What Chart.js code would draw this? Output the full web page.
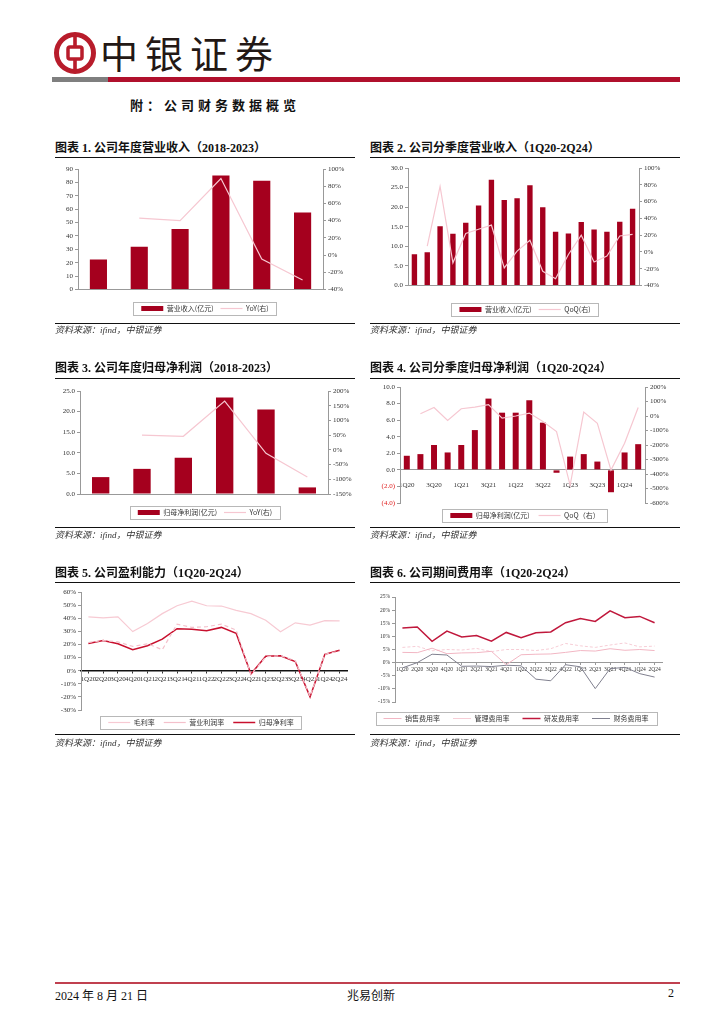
<!DOCTYPE html>
<html lang="zh-CN">
<head>
<meta charset="utf-8">
<title>附：公司财务数据概览</title>
<script src="https://cdn.jsdelivr.net/npm/chart.js@4.4.1/dist/chart.umd.min.js"></script>
<style>
  body { margin: 0; background: #fff; }
  #page { position: relative; width: 724px; height: 1024px; overflow: hidden; color: #111;
          font-family: 'Liberation Serif', 'Noto Sans CJK SC', serif; }
  .abs { position: absolute; }
  .title { font-weight: bold; font-size: 12px; line-height: 14px; white-space: nowrap; }
  .rule { position: absolute; height: 0; border-top: 1.5px solid #111; }
  .thin { border-top-width: 1px; }
  .source { font-style: italic; font-size: 9px; line-height: 11px; color: #333; }
  canvas { position: absolute; }
</style>
</head>
<body>
<div id="page">
  <!-- 页眉 -->
  <svg class="abs" style="left:53px;top:31px" width="44" height="44" viewBox="0 0 44 44">
    <circle cx="22" cy="22" r="18.5" fill="none" stroke="#B81C2B" stroke-width="5"/>
    <rect x="15" y="16" width="14" height="12" rx="2" fill="none" stroke="#B81C2B" stroke-width="3.5"/>
    <rect x="20.2" y="3" width="3.6" height="13" fill="#B81C2B"/>
    <rect x="20.2" y="28" width="3.6" height="13" fill="#B81C2B"/>
  </svg>
  <div class="abs" style="left:100px;top:33px;font-size:38px;line-height:38px;letter-spacing:7px;color:#231815;font-family:'Noto Sans CJK SC'">中银证券</div>
  <div class="abs" style="left:52px;top:77px;width:56px;height:5px;background:#7f7f7f"></div>
  <div class="abs" style="left:108px;top:77px;width:572px;height:5px;background:#B0102C"></div>
  <div class="abs" style="left:130px;top:95px;font-size:13px;letter-spacing:4px;font-weight:bold;font-family:'Noto Sans CJK SC'">附：公司财务数据概览</div>

  <!-- 第一行 -->
  <div class="abs title" style="left:55px;top:141px">图表 1. 公司年度营业收入（2018-2023）</div>
  <div class="rule" style="left:55px;top:157px;width:300px"></div>
  <canvas id="c1" width="300" height="164" style="left:55px;top:160px"></canvas>
  <div class="rule thin" style="left:55px;top:323px;width:300px"></div>
  <div class="abs source" style="left:55px;top:325px">资料来源：ifind，中银证券</div>

  <div class="abs title" style="left:370px;top:141px">图表 2. 公司分季度营业收入（1Q20-2Q24）</div>
  <div class="rule" style="left:370px;top:157px;width:310px"></div>
  <canvas id="c2" width="310" height="165" style="left:370px;top:160px"></canvas>
  <div class="rule thin" style="left:370px;top:323px;width:310px"></div>
  <div class="abs source" style="left:370px;top:325px">资料来源：ifind，中银证券</div>

  <!-- 第二行 -->
  <div class="abs title" style="left:55px;top:361px">图表 3. 公司年度归母净利润（2018-2023）</div>
  <div class="rule" style="left:55px;top:378px;width:300px"></div>
  <canvas id="c3" width="300" height="147" style="left:55px;top:381px"></canvas>
  <div class="rule thin" style="left:55px;top:527px;width:300px"></div>
  <div class="abs source" style="left:55px;top:530px">资料来源：ifind，中银证券</div>

  <div class="abs title" style="left:370px;top:361px">图表 4. 公司分季度归母净利润（1Q20-2Q24）</div>
  <div class="rule" style="left:370px;top:378px;width:310px"></div>
  <canvas id="c4" width="310" height="152" style="left:370px;top:379px"></canvas>
  <div class="rule thin" style="left:370px;top:527px;width:310px"></div>
  <div class="abs source" style="left:370px;top:530px">资料来源：ifind，中银证券</div>

  <!-- 第三行 -->
  <div class="abs title" style="left:55px;top:566px">图表 5. 公司盈利能力（1Q20-2Q24）</div>
  <div class="rule" style="left:55px;top:582px;width:300px"></div>
  <canvas id="c5" width="300" height="153" style="left:55px;top:585px"></canvas>
  <div class="rule thin" style="left:55px;top:734px;width:300px"></div>
  <div class="abs source" style="left:55px;top:738px">资料来源：ifind，中银证券</div>

  <div class="abs title" style="left:370px;top:566px">图表 6. 公司期间费用率（1Q20-2Q24）</div>
  <div class="rule" style="left:370px;top:582px;width:310px"></div>
  <canvas id="c6" width="310" height="149" style="left:370px;top:585px"></canvas>
  <div class="rule thin" style="left:370px;top:734px;width:310px"></div>
  <div class="abs source" style="left:370px;top:738px">资料来源：ifind，中银证券</div>

  <!-- 页脚 -->
  <div class="abs" style="left:55px;top:982px;width:625px;height:1.5px;background:#C0404F"></div>
  <div class="abs" style="left:55px;top:986px;font-size:12px">2024 年 8 月 21 日</div>
  <div class="abs" style="left:347px;top:986px;font-size:12px">兆易创新</div>
  <div class="abs" style="left:668px;top:986px;font-size:12px">2</div>
</div>

<script>
// 横轴
const years = ['2018', '2019', '2020', '2021', '2022', '2023'];
const quarters = ['1Q20', '2Q20', '3Q20', '4Q20', '1Q21', '2Q21', '3Q21', '4Q21', '1Q22',
                  '2Q22', '3Q22', '4Q22', '1Q23', '2Q23', '3Q23', '4Q23', '1Q24', '2Q24'];

// 图表1 年度营业收入（亿元）与同比（%）
const revenueYear = [22.4, 32.0, 45.1, 85.1, 81.3, 57.6];
const revenueYoY = [null, 43, 40, 89, -4.5, -29];

// 图表2 分季度营业收入（亿元）与环比（%）
const revenueQ = [8.0, 8.5, 15.1, 13.2, 16.0, 20.4, 27.0, 21.8, 22.3, 25.6, 20.0, 13.7, 13.3, 16.2, 14.3, 13.7, 16.3, 19.6];
const revenueQoQ = [null, 7, 78, -13, 22, 27, 32, -19, 1, 14, -23, -32, -3, 20, -12, -5, 19, 21];

// 图表3 年度归母净利润（亿元）与同比（%）
const profitYear = [4.1, 6.1, 8.8, 23.4, 20.5, 1.6];
const profitYoY = [null, 50, 46, 166, -12, -92];

// 图表4 分季度归母净利润（亿元）与环比（%）
const profitQ = [1.7, 1.9, 3.0, 2.1, 3.0, 4.8, 8.6, 6.9, 6.9, 8.4, 5.7, -0.35, 1.6, 1.9, 1.0, -2.7, 2.1, 3.1];
const profitQoQ = [null, 15, 59, -31, 50, 61, 78, -15, 0, 20, -38, -107, -478, 27, -50, -373, -188, 59];

// 图表5 盈利能力（%）
const grossMargin = [41, 40.3, 41, 29.8, 36, 43.5, 49.5, 53, 49.5, 49.3, 46, 43.5, 38.5, 29.7, 36.5, 34.7, 38.2, 38];
const opMargin = [21.5, 23, 22, 18.5, 20.5, 16, 35.5, 33, 33.5, 35.5, 31, -3, 10.5, 11.5, 7.5, -19.5, 12.5, 15];
const netMargin = [20.8, 23, 20.5, 16, 19, 24, 32, 31.5, 30.5, 33, 28.5, -2.5, 11, 11.3, 7, -20, 12.5, 15.5];

// 图表6 期间费用率（%）
const sellingRate = [3.9, 3.8, 5.5, 3.4, 3.7, 3.8, 4.3, -0.8, 3.0, 3.2, 3.3, 3.9, 4.6, 4.4, 5.3, 4.7, 5.0, 4.6];
const adminRate = [5.8, 6.2, 4.5, 5.0, 4.8, 5.4, 4.2, 5.0, 5.0, 4.6, 5.3, 7.3, 6.4, 5.8, 6.7, 7.5, 6.0, 6.3];
const rdRate = [13.2, 13.6, 8.1, 12.0, 9.8, 10.3, 8.2, 11.5, 9.5, 11.4, 11.7, 15.2, 16.8, 15.7, 19.7, 17.1, 17.6, 15.2];
const finRate = [-2.0, 0.0, 3.2, 2.9, -1.4, -1.3, -1.5, -1.0, -1.2, -6.3, -6.9, -0.8, -1.6, -9.9, -2.3, -1.8, -4.2, -5.5];

const BAR = '#A5001E';
const PINK = '#F6C7D1';
const CJK = "'Noto Sans CJK SC', sans-serif";

Chart.defaults.font.family = "'Liberation Serif', 'Noto Sans CJK SC', serif";
Chart.defaults.font.size = 7;
Chart.defaults.color = '#333';
Chart.defaults.animation = false;
Chart.defaults.plugins.tooltip.enabled = false;

// 给图例加一个外框
const legendBorder = {
  id: 'legendBorder',
  afterDraw(chart) {
    const boxes = chart.legend && chart.legend.legendHitBoxes;
    if (!boxes || !boxes.length) return;
    const l = Math.min(...boxes.map(b => b.left)) - 8;
    const r = Math.max(...boxes.map(b => b.left + b.width)) + 8;
    const t = Math.min(...boxes.map(b => b.top)) - 3;
    const bt = Math.max(...boxes.map(b => b.top + b.height)) + 3;
    const ctx = chart.ctx;
    ctx.save();
    ctx.strokeStyle = '#b8b8b8';
    ctx.lineWidth = 1;
    ctx.strokeRect(Math.round(l) + 0.5, Math.round(t) + 0.5, Math.round(r - l), Math.round(bt - t));
    ctx.restore();
  }
};

function legendOpts(pad, w) {
  return {
    position: 'bottom',
    labels: { usePointStyle: true, pointStyleWidth: w || 22, boxHeight: 5, padding: pad,
              font: { family: CJK, size: 7 }, color: '#333',
              sort: (a, b) => a.datasetIndex - b.datasetIndex }
  };
}

function sideAxis(position, min, max, step, fmt, width, fontSize) {
  return {
    position, min, max,
    ticks: { stepSize: step, callback: fmt, padding: 2, font: { size: fontSize || 7 } },
    grid: { drawOnChartArea: false, tickLength: 3, color: '#999' },
    border: { color: '#999' },
    afterFit: s => { s.width = width; }
  };
}

const pct = v => v + '%';
const one = v => v.toFixed(1);

function barLineChart(id, labels, bars, barName, line, lineName, cfg) {
  return new Chart(document.getElementById(id), {
    type: 'bar',
    data: {
      labels,
      datasets: [
        { type: 'bar', label: barName, data: bars, backgroundColor: BAR, borderWidth: 0,
          barPercentage: cfg.barPct, categoryPercentage: 1, yAxisID: 'y', order: 1, pointStyle: 'rect' },
        { type: 'line', label: lineName, data: line, borderColor: PINK, backgroundColor: PINK,
          borderWidth: 1.2, pointRadius: 0, tension: 0, yAxisID: 'y1', order: 0, pointStyle: 'line' }
      ]
    },
    options: {
      responsive: false,
      layout: { padding: { top: cfg.top, left: 0, right: 0, bottom: cfg.pb } },
      plugins: { legend: legendOpts(cfg.pad) },
      scales: {
        x: {
          position: cfg.xPos || 'bottom',
          ticks: { autoSkip: false, maxRotation: 0, padding: 3,
                   callback: (v, i) => (cfg.every && i % cfg.every) ? '' : labels[i] },
          grid: { display: false },
          border: { color: '#999' },
          afterFit: s => { s.height = cfg.xh; }
        },
        y: cfg.y,
        y1: cfg.y1
      }
    },
    plugins: [legendBorder]
  });
}

// 图表1
barLineChart('c1', years, revenueYear, '营业收入(亿元)', revenueYoY, 'YoY(右)', {
  barPct: 0.42, top: 9, pb: 2, pad: 7, xh: 8.5,
  y: sideAxis('left', 0, 90, 10, v => v, 23),
  y1: sideAxis('right', -40, 100, 20, pct, 32)
});

// 图表2
barLineChart('c2', quarters, revenueQ, '营业收入(亿元)', revenueQoQ, 'QoQ(右)', {
  barPct: 0.42, top: 8, pb: 2, pad: 7, xh: 13.5, every: 2,
  y: sideAxis('left', 0, 30, 5, one, 38),
  y1: sideAxis('right', -40, 100, 20, pct, 41)
});

// 图表3
barLineChart('c3', years, profitYear, '归母净利润(亿元)', profitYoY, 'YoY(右)', {
  barPct: 0.42, top: 10, pb: 2, pad: 7, xh: 8,
  y: sideAxis('left', 0, 25, 5, one, 25),
  y1: sideAxis('right', -150, 200, 50, pct, 27)
});

// 图表4
const y4 = sideAxis('left', -4, 10, 2, v => v < 0 ? '(' + Math.abs(v).toFixed(1) + ')' : v.toFixed(1), 30);
y4.ticks.color = ctx => ctx.tick && ctx.tick.value < 0 ? '#E02020' : '#333';
barLineChart('c4', quarters, profitQ, '归母净利润(亿元)', profitQoQ, 'QoQ（右）', {
  barPct: 0.44, top: 8, pb: 2, pad: 9, xh: 10, every: 2, xPos: { y: 0 },
  y: y4,
  y1: sideAxis('right', -600, 200, 100, pct, 35)
});

function lineSet(label, data, color, width, dash) {
  return { label, data, borderColor: color, backgroundColor: color, borderWidth: width,
           borderDash: dash || [], pointRadius: 0, tension: 0, pointStyle: 'line' };
}

// 图表5
new Chart(document.getElementById('c5'), {
  type: 'line',
  data: {
    labels: quarters,
    datasets: [
      lineSet('毛利率', grossMargin, '#F7CAD3', 1.2),
      lineSet('营业利润率', opMargin, '#F4C0CB', 1.2, [4, 3]),
      lineSet('归母净利率', netMargin, '#C8102E', 1.5)
    ]
  },
  options: {
    responsive: false,
    layout: { padding: { top: 7, left: 0, right: 8, bottom: 2 } },
    plugins: { legend: legendOpts(9) },
    scales: {
      x: {
        position: { y: 0 }, offset: true,
        ticks: { autoSkip: false, maxRotation: 0, minRotation: 0, padding: 2 },
        grid: { drawOnChartArea: false, tickLength: 2, color: '#333' },
        border: { color: '#111', width: 1.5 }
      },
      y: sideAxis('left', -30, 60, 10, pct, 26)
    }
  },
  plugins: [legendBorder]
});

// 图表6
new Chart(document.getElementById('c6'), {
  type: 'line',
  data: {
    labels: quarters,
    datasets: [
      lineSet('销售费用率', sellingRate, '#F2B6C3', 1),
      lineSet('管理费用率', adminRate, '#F7CDD6', 1, [3, 2]),
      lineSet('研发费用率', rdRate, '#C0183C', 1.5),
      lineSet('财务费用率', finRate, '#80808F', 1)
    ]
  },
  options: {
    responsive: false,
    layout: { padding: { top: 12, left: 0, right: 18, bottom: 2 } },
    plugins: { legend: legendOpts(13, 18) },
    scales: {
      x: {
        position: { y: 0 }, offset: true,
        ticks: { autoSkip: false, maxRotation: 0, minRotation: 0, padding: 2, font: { size: 5.5 } },
        grid: { drawOnChartArea: false, tickLength: 2, color: '#999' },
        border: { color: '#999' }
      },
      y: sideAxis('left', -15, 25, 5, pct, 25, 5.5)
    }
  },
  plugins: [legendBorder]
});
</script>
</body>
</html>
